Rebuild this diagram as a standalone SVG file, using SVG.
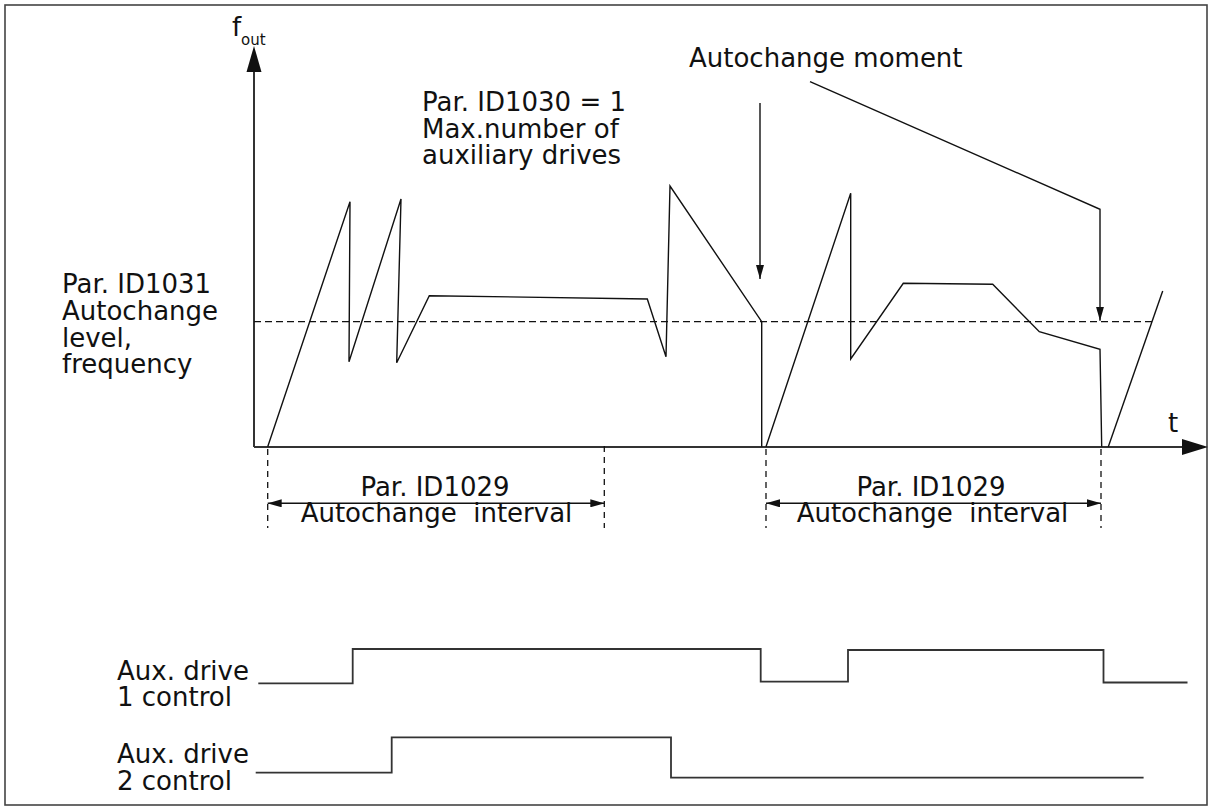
<svg xmlns="http://www.w3.org/2000/svg" width="1213" height="809" viewBox="0 0 1213 809">
<style>
text{font-family:"DejaVu Sans","Verdana","Liberation Sans",sans-serif;font-size:26px;fill:#111}
.ln{fill:none;stroke:#111;stroke-width:1.4;stroke-linejoin:miter}
.ax{fill:none;stroke:#333;stroke-width:2}
.dash{fill:none;stroke:#111;stroke-width:1.3;stroke-dasharray:7 4}
.ext{fill:none;stroke:#111;stroke-width:1.3;stroke-dasharray:6 5}
.sig{fill:none;stroke:#333;stroke-width:1.8}
.mid{text-anchor:middle}
</style>
<defs>
<marker id="ah" viewBox="0 0 14 8" refX="14" refY="4" markerWidth="14" markerHeight="8" markerUnits="userSpaceOnUse" orient="auto">
<path d="M0,0 L14,4 L0,8 Z" fill="#111"/>
</marker>
<marker id="dh" viewBox="0 0 14 8" refX="14" refY="4" markerWidth="14" markerHeight="8" markerUnits="userSpaceOnUse" orient="auto-start-reverse">
<path d="M0,0 L14,4 L0,8 Z" fill="#111"/>
</marker>
</defs>
<rect id="frame" x="5" y="5" width="1202" height="800" fill="#fff" stroke="#444" stroke-width="1.6"/>

<g id="axes">
<line class="ax" x1="254" y1="447" x2="254" y2="70"/>
<polygon points="254,46 246.5,72 261.5,72" fill="#111"/>
<line class="ax" x1="254" y1="447" x2="1184" y2="447"/>
<polygon points="1208,447 1182,439 1182,455" fill="#111"/>
<text x="232" y="36">f</text>
<text x="241" y="45" style="font-size:15px">out</text>
<text x="1168" y="432">t</text>
</g>

<g id="level">
<line class="dash" x1="254" y1="321.7" x2="1155" y2="321.7"/>
<text x="62" y="293">Par. ID1031</text>
<text x="62" y="320">Autochange</text>
<text x="62" y="347">level,</text>
<text x="62" y="373">frequency</text>
</g>

<g id="curve">
<polyline class="ln" points="267.7,446.7 350,201.7 349,361.7 401,199 396.7,362.7 429.3,295.7 647.3,299 666,356.7 670,186 761.7,321.7 761.7,446.7"/>
<polyline class="ln" points="766,446.7 850.7,193.3 850.7,359 903.3,283.3 992.7,284.3 1039.3,331.7 1100,349.3 1101.7,446.7"/>
<polyline class="ln" points="1108.3,446.7 1162.7,291"/>
</g>

<g id="maxaux">
<text x="422" y="111">Par. ID1030 = 1</text>
<text x="422" y="138">Max.number of</text>
<text x="422" y="164">auxiliary drives</text>
</g>

<g id="autochange-moment">
<text x="689" y="66.7">Autochange moment</text>
</g>

<g id="connectors">
<line class="ln" x1="760" y1="103" x2="760" y2="279" marker-end="url(#ah)"/>
<polyline class="ln" points="810,81.7 1100,209.3 1100,320.7" marker-end="url(#ah)"/>
</g>

<g id="interval1">
<line class="ext" x1="267.7" y1="449" x2="267.7" y2="528"/>
<line class="ext" x1="604.3" y1="446" x2="604.3" y2="528"/>
<line class="ln" x1="267.7" y1="503.3" x2="604.3" y2="503.3" marker-start="url(#dh)" marker-end="url(#dh)"/>
<text class="mid" x="435" y="496">Par. ID1029</text>
<text class="mid" x="436.5" y="522" xml:space="preserve">Autochange  interval</text>
</g>

<g id="interval2">
<line class="ext" x1="766" y1="449" x2="766" y2="528"/>
<line class="ext" x1="1101" y1="449" x2="1101" y2="528"/>
<line class="ln" x1="766" y1="503.3" x2="1101" y2="503.3" marker-start="url(#dh)" marker-end="url(#dh)"/>
<text class="mid" x="931" y="496">Par. ID1029</text>
<text class="mid" x="932.5" y="522" xml:space="preserve">Autochange  interval</text>
</g>

<g id="aux1">
<text x="117" y="680">Aux. drive</text>
<text x="117" y="706">1 control</text>
<polyline class="sig" points="258.3,683.3 352.7,683.3 352.7,649 760.7,649 760.7,681.7 848,681.7 848,650 1103.5,650 1103.5,682.5 1187.5,682.5"/>
</g>

<g id="aux2">
<text x="117" y="763.3">Aux. drive</text>
<text x="117" y="790">2 control</text>
<polyline class="sig" points="255.7,772.7 391.7,772.7 391.7,737.3 671,737.3 671,777.7 1143.6,777.7"/>
</g>
</svg>
